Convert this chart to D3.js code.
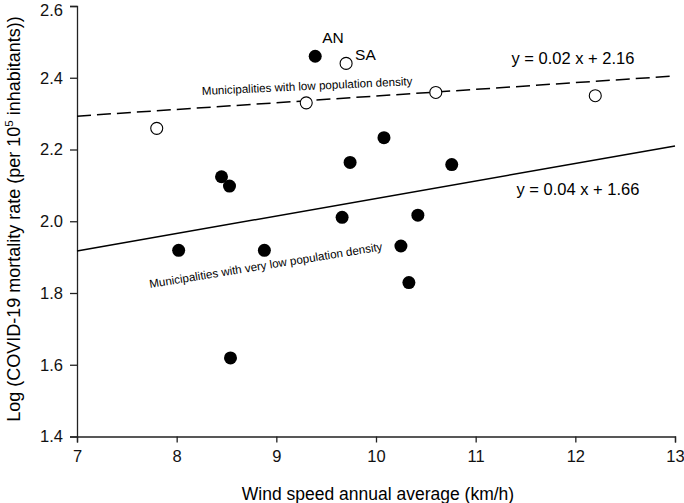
<!DOCTYPE html>
<html>
<head>
<meta charset="utf-8">
<script src="https://cdn.jsdelivr.net/npm/d3@7"></script>
<style>
  body { margin: 0; background: #fff; }
  svg { display: block; font-family: "Liberation Sans", Arial, sans-serif; }
</style>
</head>
<body>
<svg id="chart" width="684" height="503"></svg>
<script>
// Very low population density municipalities (filled)
const veryLowX = [9.39, 8.45, 8.53, 8.02, 8.88, 8.54, 9.66, 9.74, 10.08, 10.76, 10.42, 10.25, 10.33];
const veryLowY = [2.46, 2.124, 2.098, 1.919, 1.919, 1.619, 2.011, 2.164, 2.233, 2.158, 2.017, 1.931, 1.829];
const veryLowNames = ["AN", "", "", "", "", "", "", "", "", "", "", "", ""];
// Low population density municipalities (open)
const lowX = [7.8, 9.3, 9.7, 10.6, 12.2];
const lowY = [2.259, 2.330, 2.44, 2.359, 2.35];
const lowNames = ["", "", "SA", "", ""];
// Fitted lines (endpoints as drawn)
const fitX = [7, 13];
const fitLowY = [2.293, 2.405];
const fitVeryLowY = [1.917, 2.21];
const xTicks = [7, 8, 9, 10, 11, 12, 13];
const yTicks = [1.4, 1.6, 1.8, 2.0, 2.2, 2.4, 2.6];

const svg = d3.select("#chart");
const x = d3.scaleLinear().domain([7, 13]).range([77, 675]);
const y = d3.scaleLinear().domain([1.4, 2.6]).range([436.5, 6]);

// axes
const xAxis = svg.append("g").attr("transform", `translate(0,${y(1.4)})`)
  .call(d3.axisBottom(x).tickValues(xTicks).tickFormat(d3.format("d")).tickSizeOuter(0).tickSize(6).tickPadding(8));
const yAxis = svg.append("g").attr("transform", `translate(${x(7)},0)`)
  .call(d3.axisLeft(y).tickValues(yTicks).tickFormat(d3.format(".1f")).tickSizeOuter(0).tickSize(7).tickPadding(7));
[xAxis, yAxis].forEach(g => {
  g.selectAll("path,line").attr("stroke", "#222").attr("stroke-width", 1.3);
  g.selectAll("text").attr("font-size", 16.5).attr("fill", "#111").attr("font-family", "Liberation Sans, Arial, sans-serif");
});
yAxis.selectAll("text").filter(d => d === 2.6).attr("dy", "0.56em");

// fitted lines
const line = d3.line().x(d => x(d[0])).y(d => y(d[1]));
svg.append("path").datum(fitX.map((v, i) => [v, fitVeryLowY[i]]))
  .attr("d", line).attr("fill", "none").attr("stroke", "#000").attr("stroke-width", 1.5);
svg.append("path").datum(fitX.map((v, i) => [v, fitLowY[i]]))
  .attr("d", line).attr("fill", "none").attr("stroke", "#000").attr("stroke-width", 1.5)
  .attr("stroke-dasharray", "14,6");

// points
svg.append("g").selectAll("circle").data(veryLowX.map((v, i) => [v, veryLowY[i]]))
  .join("circle").attr("cx", d => x(d[0])).attr("cy", d => y(d[1])).attr("r", 6.5).attr("fill", "#000");
svg.append("g").selectAll("circle").data(lowX.map((v, i) => [v, lowY[i]]))
  .join("circle").attr("cx", d => x(d[0])).attr("cy", d => y(d[1])).attr("r", 6)
  .attr("fill", "#fff").attr("stroke", "#000").attr("stroke-width", 1.1);

// point name labels
veryLowNames.forEach((n, i) => { if (n) svg.append("text").attr("x", x(veryLowX[i]) + 7).attr("y", y(veryLowY[i]) - 13)
  .attr("font-size", 15.5).text(n); });
lowNames.forEach((n, i) => { if (n) svg.append("text").attr("x", x(lowX[i]) + 9).attr("y", y(lowY[i]) - 3)
  .attr("font-size", 15.5).text(n); });

// equations
svg.append("text").attr("x", 573).attr("y", 64).attr("text-anchor", "middle").attr("font-size", 16.5).text("y = 0.02 x + 2.16");
svg.append("text").attr("x", 578).attr("y", 195).attr("text-anchor", "middle").attr("font-size", 16.5).text("y = 0.04 x + 1.66");

// rotated group labels
svg.append("text").attr("transform", "translate(202,95) rotate(-2.7)").attr("font-size", 11.6)
  .text("Municipalities with low population density");
svg.append("text").attr("transform", "translate(150,288) rotate(-9.2)").attr("font-size", 11.6)
  .text("Municipalities with very low population density");

// axis titles
svg.append("text").attr("x", 378).attr("y", 500).attr("text-anchor", "middle").attr("font-size", 17.5)
  .text("Wind speed annual average (km/h)");
const yt = svg.append("text").attr("transform", "translate(20,219) rotate(-90)").attr("text-anchor", "middle").attr("font-size", 18);
yt.append("tspan").text("Log (COVID-19 mortality rate (per 10");
yt.append("tspan").attr("font-size", 11.5).attr("dy", -7).text("5");
yt.append("tspan").attr("dy", 7).text(" inhabitants))");
</script>
</body>
</html>
